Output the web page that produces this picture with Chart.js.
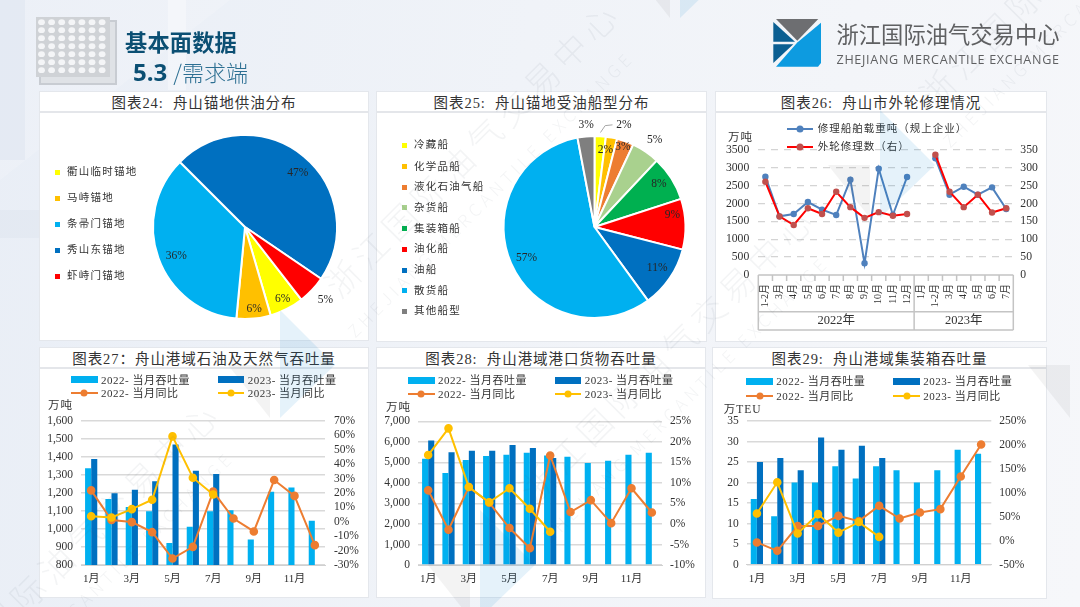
<!DOCTYPE html>
<html lang="zh">
<head>
<meta charset="utf-8">
<title>基本面数据 5.3 需求端</title>
<script src="https://cdn.jsdelivr.net/npm/chart.js@4"></script>
<style>
  html, body { margin: 0; padding: 0; }
  body {
    width: 1080px; height: 607px; position: relative; overflow: hidden;
    background: linear-gradient(100deg, #e9eef6 0%, #f0f3f8 45%, #f6f7fa 100%);
    font-family: "Liberation Serif", "Noto Sans CJK SC", serif; color: #262626;
  }
  .abs { position: absolute; white-space: pre; }
  .panel { position: absolute; background: #fff; outline: 1px solid #e4e7ec; }
  .title {
    position: absolute; left: 0; right: 0; top: 0; height: 19px; line-height: 23px;
    text-align: center; font-size: 14.5px; letter-spacing: .95px; color: #333;
    border-bottom: 2px solid #e4e6ea; white-space: pre;
  }
  .panel canvas { position: absolute; left: 0; top: 0; }
  .lg { position: absolute; font-size: 10.5px; letter-spacing: 1.25px; line-height: 14px; height: 14px; white-space: pre; color: #333; transform: translateY(-7px); }
  .unit { position: absolute; font-size: 11.5px; line-height: 14px; transform: translateY(-7px); letter-spacing: 1px; white-space: pre; color: #333; }
  .mk { position: absolute; border-radius: 50%; width: 7px; height: 7px; transform: translate(-3.5px, -3.5px); }
  .wm { position: absolute; white-space: pre; transform: rotate(-45deg); transform-origin: 0 50%; pointer-events: none;
        color: rgba(70, 85, 110, .065); font-family: "Noto Sans CJK SC", sans-serif; font-weight: 300; }
  #wmLayer { position: absolute; inset: 0; pointer-events: none; z-index: 5; overflow: hidden; }
  #head { position: absolute; inset: 0; z-index: 6; }
</style>
</head>
<body>
<svg class="abs" style="left:0;top:0" width="1080" height="607">
  <polygon points="0,0 230,0 0,180" fill="#ffffff" opacity=".16"/>
  <rect x="0" y="0" width="25" height="160" fill="#dfe6f0" opacity=".6"/>
  <rect x="0" y="210" width="40" height="28" fill="#dfe6f0" opacity=".6"/>
  <rect x="168" y="0" width="18" height="90" fill="#ffffff" opacity=".35"/>
</svg>

<div id="panels"></div>
<div id="wmLayer"></div>

<div id="head">
  <svg class="abs" style="left:34px;top:15px" width="90" height="74" id="gridIcon"></svg>
  <div class="abs" style="left:125px;top:25px;font:700 22.2px/32px 'Noto Sans CJK SC';color:#0b4f73;letter-spacing:.2px">基本面数据</div>
  <div class="abs" style="left:133px;top:54px;line-height:34px;color:#2c6f92;font-family:'Noto Sans CJK SC'"><span style="font:700 24px/34px 'Open Sans';color:#0b4f73">5.3</span><span style="font:300 22px/34px 'Noto Sans CJK SC';margin-left:6px">/需求端</span></div>
  <svg class="abs" style="left:0;top:0" width="1080" height="90">
    <polygon points="776,19 818.3,19 797.3,40.7" fill="#6d6e71"/>
    <polygon points="773.3,22 795,41.7 773.3,41.7" fill="#0b5f92"/>
    <polygon points="773.3,44.3 793.3,44.3 773.3,63" fill="#0b5f92"/>
    <polygon points="821,22.7 821,63 818,66.7 776,66.7 797.3,42.5" fill="#0d9be0"/>
  </svg>
  <div class="abs" style="left:836.5px;top:17px;font:400 22.3px/33px 'Noto Sans CJK SC';color:#5f6062">浙江国际油气交易中心</div>
  <div class="abs" style="left:836.5px;top:51px;font:400 12.6px/17px 'Open Sans';letter-spacing:.68px;color:#5f6062">ZHEJIANG MERCANTILE EXCHANGE</div>
</div>

<script>
// Anchorage supply and ship-type shares (percent)
const supplyNames = ['衢山临时锚地', '马峙锚地', '条帚门锚地', '秀山东锚地', '虾峙门锚地'];
const supplyShares = [6, 6, 36, 47, 5];
const shipNames = ['冷藏船', '化学品船', '液化石油气船', '杂货船', '集装箱船', '油化船', '油船', '散货船', '其他船型'];
const shipShares = [2, 2, 3, 5, 8, 9, 11, 57, 3];

// Foreign-ship repair, monthly
const repairMonths = ['1-2月','3月','4月','5月','6月','7月','8月','9月','10月','11月','12月','1月','1-2月','3月','4月','5月','6月','7月'];
const repairYears = ['2022年', '2023年'];
const repairTonnage = [2753,1642,1708,2043,1829,1680,2669,327,2977,1680,2744,null,3267,2249,2473,2249,2454,1848];
const repairCount = [261,164,140,187,171,233,190,160,176,166,171,null,337,233,190,225,175,187];

const months = ['1月','2月','3月','4月','5月','6月','7月','8月','9月','10月','11月','12月'];

// Oil and gas throughput
const oil2022 = [1337,1167,1122,1098,922,1013,1098,1104,941,1207,1231,1046];
const oil2023 = [1389,1198,1218,1265,1469,1324,1305];
const oilYoy2022 = [21.8,1.2,-0.2,-7.2,-25.5,-17.4,21,2.3,-6.7,29,18,-16.2];
const oilYoy2023 = [3.9,3,8.8,15.3,59.3,30.6,19];

// Port cargo throughput
const cargo2022 = [5180,4480,5115,5310,5375,5470,5340,5275,4970,5080,5375,5470];
const cargo2023 = [6070,5500,5570,5570,5845,5700,5210];
const cargoYoy2022 = [8.2,-1.4,9,5.2,-1,-5.9,16.7,2.9,5.8,0.2,8.7,2.8];
const cargoYoy2023 = [16.8,23.3,9,5.3,8.7,3.7,-1.9];

// Container throughput
const box2022 = [16,11.8,20,20,24,21,24,23,20,23,28,27];
const box2023 = [25,26,23,31,28,29,26];
const boxYoy2022 = [-3.5,-21,30.6,31,52,41,73,46.5,59,66,134,201];
const boxYoy2023 = [57,122,15,55.6,17,39,8];

const seriesNames = ['2022- 当月吞吐量', '2023- 当月吞吐量', '2022- 当月同比', '2023- 当月同比'];
const repairNames = ['修理船舶载重吨（规上企业）', '外轮修理数（右）'];

const TXT = '#333333';
const LIGHT = '#00b0f0', DARK = '#0070c0', ORANGE = '#ed7d31', GOLD = '#ffc000';
const SERIF = '"Liberation Serif", "Noto Sans CJK SC", serif';
Chart.defaults.font.family = SERIF;
Chart.defaults.color = TXT;
Chart.defaults.animation = false;
Chart.defaults.responsive = false;

const host = document.getElementById('panels');

function addPanel(x, y, w, h, title) {
  const p = document.createElement('div');
  p.className = 'panel';
  p.style.cssText = `left:${x}px;top:${y}px;width:${w}px;height:${h}px`;
  const t = document.createElement('div');
  t.className = 'title';
  t.textContent = title;
  p.appendChild(t);
  const c = document.createElement('canvas');
  c.width = w; c.height = h;
  c.style.width = w + 'px'; c.style.height = h + 'px';
  p.appendChild(c);
  host.appendChild(p);
  return { el: p, canvas: c, x, y };
}

function textAt(panel, cls, px, py, text) {
  const d = document.createElement('div');
  d.className = cls;
  d.style.left = (px - panel.x) + 'px';
  d.style.top = (py - panel.y) + 'px';
  d.textContent = text;
  panel.el.appendChild(d);
  return d;
}

function swatch(panel, px, py, w, h, color) {
  const d = document.createElement('div');
  d.style.cssText = `position:absolute;left:${px - panel.x}px;top:${py - panel.y - h / 2}px;width:${w}px;height:${h}px;background:${color}`;
  panel.el.appendChild(d);
}

function lineKey(panel, x0, x1, py, lineColor, dotColor) {
  swatch(panel, x0, py, x1 - x0, 2, lineColor);
  const m = document.createElement('div');
  m.className = 'mk';
  m.style.left = ((x0 + x1) / 2 - panel.x) + 'px';
  m.style.top = (py - panel.y) + 'px';
  m.style.background = dotColor;
  panel.el.appendChild(m);
}

// Percent labels placed around each slice: radius factor and angular shift in degrees
const sliceLabels = {
  id: 'sliceLabels',
  afterDatasetsDraw(chart, args, opts) {
    const { ctx } = chart;
    const arcs = chart.getDatasetMeta(0).data;
    ctx.save();
    ctx.font = '11.5px ' + SERIF;
    ctx.fillStyle = '#262626';
    ctx.textAlign = 'center';
    ctx.textBaseline = 'middle';
    arcs.forEach((a, i) => {
      const mid = (a.startAngle + a.endAngle) / 2 + opts.shift[i] * Math.PI / 180;
      const r = a.outerRadius * opts.radius[i];
      ctx.fillText(chart.data.datasets[0].data[i] + '%', a.x + Math.cos(mid) * r, a.y + Math.sin(mid) * r);
    });
    if (opts.leader) {
      const a = arcs[opts.leader.index];
      const pt = (ang, f) => {
        const t = (ang - 90) * Math.PI / 180;
        return [a.x + Math.cos(t) * a.outerRadius * f, a.y + Math.sin(t) * a.outerRadius * f];
      };
      ctx.strokeStyle = '#a6a6a6';
      ctx.lineWidth = 1;
      ctx.beginPath();
      opts.leader.path.forEach(([ang, f], k) => {
        const [px, py] = pt(ang, f);
        k ? ctx.lineTo(px, py) : ctx.moveTo(px, py);
      });
      ctx.stroke();
    }
    ctx.restore();
  }
};

function pie(panel, box, values, colors, rotation, labelOpts) {
  new Chart(panel.canvas, {
    type: 'pie',
    data: { labels: labelOpts.names, datasets: [{ data: values, backgroundColor: colors, borderColor: '#ffffff', borderWidth: 2 }] },
    options: {
      rotation,
      layout: { padding: box },
      plugins: { legend: { display: false }, tooltip: { enabled: false }, sliceLabels: labelOpts }
    },
    plugins: [sliceLabels]
  });
}

// Fixed-width axes keep every plot area where the layout wants it
const fixedWidth = w => ({ afterFit(s) { s.width = w; } });
const fixedHeight = h => ({ afterFit(s) { s.height = h; } });

function comboChart(panel, frame, d) {
  new Chart(panel.canvas, {
    type: 'bar',
    data: {
      labels: months,
      datasets: [
        { type: 'line', data: d.yoyA, yAxisID: 'y1', borderColor: ORANGE, backgroundColor: ORANGE, borderWidth: 2, pointRadius: 3.3, tension: 0, order: 2 },
        { type: 'line', data: d.yoyB, yAxisID: 'y1', borderColor: GOLD, backgroundColor: GOLD, borderWidth: 2, pointRadius: 3.3, tension: 0, order: 1 },
        { data: d.barA, backgroundColor: LIGHT, yAxisID: 'y', categoryPercentage: .6, barPercentage: 1, order: 3 },
        { data: d.barB, backgroundColor: DARK, yAxisID: 'y', categoryPercentage: .6, barPercentage: 1, order: 4 }
      ]
    },
    options: {
      layout: { padding: { top: frame.top, left: 0, right: 0, bottom: 0 } },
      plugins: { legend: { display: false }, tooltip: { enabled: false } },
      scales: {
        x: {
          ...fixedHeight(frame.bottom),
          grid: { display: false, drawTicks: false },
          border: { color: '#d0d0d0', width: 1 },
          ticks: { autoSkip: false, maxRotation: 0, minRotation: 0, padding: 8, font: { size: 11 },
                   callback(v, i) { return i % 2 === 0 ? months[i] : ''; } }
        },
        y: {
          ...fixedWidth(frame.left),
          min: d.min, max: d.max, grid: { color: '#d9d9d9', lineWidth: 1.5, drawTicks: false },
          border: { display: false },
          afterBuildTicks(s) { s.ticks = d.ticks.map(value => ({ value })); },
          ticks: { autoSkip: false, padding: frame.padL, font: { size: 11.5 }, callback: v => v.toLocaleString('en-US') }
        },
        y1: {
          ...fixedWidth(frame.right),
          position: 'right', min: d.min1, max: d.max1, grid: { display: false, drawTicks: false },
          border: { display: false },
          afterBuildTicks(s) { s.ticks = d.ticks1.map(value => ({ value })); },
          ticks: { autoSkip: false, padding: frame.padR, font: { size: 11.5 }, callback: v => v + '%' }
        }
      }
    }
  });
}

function range(a, b, step) { const out = []; for (let v = a; v <= b; v += step) out.push(v); return out; }

function comboLegend(panel, xs, rows) {
  const keys = [[xs[0], rows[0]], [xs[1], rows[0]], [xs[0], rows[1]], [xs[1], rows[1]]];
  keys.forEach(([kx, ky], i) => {
    if (i < 2) swatch(panel, kx, ky, 26.6, 7, i ? DARK : LIGHT);
    else lineKey(panel, kx, kx + 26.6, ky, i === 2 ? ORANGE : GOLD, i === 2 ? ORANGE : GOLD);
    const t = textAt(panel, 'lg', kx + 30, ky, seriesNames[i]);
    t.style.fontSize = '11px';
    t.style.letterSpacing = '.5px';
  });
}

/* ---------- 图表24 ---------- */
const p24 = addPanel(40, 92, 328, 248, '图表24:\u00a0\u00a0舟山锚地供油分布');
pie(p24, { left: 112, right: 30, top: 42, bottom: 20 }, supplyShares,
    ['#ffff00', '#ffc000', '#00b0f0', '#0070c0', '#ff0000'], 142.2,
    { names: supplyNames, radius: [.88, .9, .81, .82, 1.18], shift: [-.8, -.9, -3, 4.9, -1] });
[172, 198, 224, 250, 276].forEach((py, i) => {
  swatch(p24, 55, py, 5, 5, ['#ffff00', '#ffc000', '#00b0f0', '#0070c0', '#ff0000'][i]);
  textAt(p24, 'lg', 67, py, supplyNames[i]);
});

/* ---------- 图表25 ---------- */
const shipColors = ['#ffff00', '#ffc000', '#ed7d31', '#a9d18e', '#00b050', '#ff0000', '#0070c0', '#00b0f0', '#7f7f7f'];
const p25 = addPanel(377, 92, 329, 249, '图表25:\u00a0\u00a0舟山锚地受油船型分布');
pie(p25, { left: 125, right: 19, top: 43, bottom: 22 }, shipShares, shipColors, 0,
    { names: shipNames, radius: [1.163, .855, .936, 1.16, .85, .867, .825, .823, 1.12], shift: [12.5, -2.7, -.4, .6, -1.2, -6.7, -.8, -1.3, .7],
      leader: { index: 0, path: [[3.6, 1.04], [6, 1.12], [10, 1.14]] } });
[145.3, 166.7, 187.3, 207.7, 228.7, 249.3, 270, 290.7, 311.3].forEach((py, i) => {
  swatch(p25, 402, py, 5, 5, shipColors[i]);
  textAt(p25, 'lg', 414, py, shipNames[i]);
});

/* ---------- 图表26 ---------- */
const p26 = addPanel(716, 92, 330, 249, '图表26:\u00a0\u00a0舟山市外轮修理情况');

// Two-level month/year axis drawn in the band under the plot
const yearAxis = {
  id: 'yearAxis',
  afterDraw(chart) {
    const { ctx, chartArea: ca } = chart;
    const x = chart.scales.x;
    const step = (ca.right - ca.left) / repairMonths.length;
    const top = ca.bottom, mid = ca.bottom + 36.7, bot = ca.bottom + 55;
    const split = ca.left + step * 11;
    ctx.save();
    ctx.strokeStyle = '#c4c4c4';
    ctx.lineWidth = 1.5;
    ctx.beginPath();
    ctx.moveTo(ca.left, top); ctx.lineTo(ca.right, top);
    ctx.moveTo(ca.left, mid); ctx.lineTo(ca.right, mid);
    ctx.moveTo(ca.left, bot); ctx.lineTo(ca.right, bot);
    ctx.moveTo(ca.left, top); ctx.lineTo(ca.left, bot);
    ctx.moveTo(split, top); ctx.lineTo(split, bot);
    ctx.moveTo(ca.right, top); ctx.lineTo(ca.right, bot);
    for (let i = 1; i < repairMonths.length; i++) {
      const tx = ca.left + step * i;
      ctx.moveTo(tx, top); ctx.lineTo(tx, top + 6);
    }
    ctx.stroke();
    ctx.fillStyle = TXT;
    ctx.font = '10px ' + SERIF;
    ctx.textBaseline = 'middle';
    repairMonths.forEach((m, i) => {
      ctx.save();
      ctx.translate(x.getPixelForValue(i), top + 9);
      ctx.rotate(-Math.PI / 2);
      ctx.textAlign = 'right';
      ctx.fillText(m, 0, 0);
      ctx.restore();
    });
    ctx.font = '12.5px ' + SERIF;
    ctx.textAlign = 'center';
    ctx.fillText(repairYears[0], (ca.left + split) / 2, (mid + bot) / 2);
    ctx.fillText(repairYears[1], (split + ca.right) / 2, (mid + bot) / 2);
    ctx.restore();
  }
};

new Chart(p26.canvas, {
  type: 'line',
  data: {
    labels: repairMonths,
    datasets: [
      { data: repairCount, yAxisID: 'y1', borderColor: '#ff0000', backgroundColor: '#c0504d', borderWidth: 2, pointRadius: 3.2, pointBorderWidth: 0, tension: 0, order: 1 },
      { data: repairTonnage, yAxisID: 'y', borderColor: '#4f81bd', backgroundColor: '#4f81bd', borderWidth: 2, pointRadius: 3.2, pointBorderWidth: 0, tension: 0, order: 2 }
    ]
  },
  options: {
    layout: { padding: { top: 58, left: 0, right: 0, bottom: 0 } },
    plugins: { legend: { display: false }, tooltip: { enabled: false } },
    scales: {
      x: { offset: true, ...fixedHeight(66), grid: { display: false, drawTicks: false }, border: { display: false }, ticks: { display: false } },
      y: {
        ...fixedWidth(42.3), min: 0, max: 3500,
        grid: { color: c => c.tick.value === 0 ? 'transparent' : '#d4d4d4', lineWidth: 1.3, drawTicks: false },
        border: { display: false, dash: [7, 6] },
        afterBuildTicks(s) { s.ticks = range(0, 3500, 500).map(value => ({ value })); },
        ticks: { autoSkip: false, padding: 9, font: { size: 11.7 } , callback: v => String(v) }
      },
      y1: {
        ...fixedWidth(32.7), position: 'right', min: 0, max: 350,
        grid: { display: false, drawTicks: false }, border: { display: false },
        afterBuildTicks(s) { s.ticks = range(0, 350, 50).map(value => ({ value })); },
        ticks: { autoSkip: false, padding: 7, font: { size: 11.7 }, callback: v => String(v) }
      }
    }
  },
  plugins: [yearAxis]
});
lineKey(p26, 786.7, 812.7, 129, '#4f81bd', '#4f81bd');
lineKey(p26, 786.7, 812.7, 147.3, '#ff0000', '#c0504d');
textAt(p26, 'lg', 817.7, 129, repairNames[0]).style.letterSpacing = '1px';
textAt(p26, 'lg', 817.7, 147.3, repairNames[1]).style.letterSpacing = '1px';
textAt(p26, 'unit', 728, 136.7, '万吨');

/* ---------- 图表27 ---------- */
const p27 = addPanel(40, 348, 328, 249, '图表27：舟山港域石油及天然气吞吐量');
comboChart(p27, { top: 73, bottom: 32, left: 41, right: 43, padL: 8, padR: 9 }, {
  barA: oil2022, barB: oil2023, yoyA: oilYoy2022, yoyB: oilYoy2023,
  min: 800, max: 1600, ticks: range(800, 1600, 100), min1: -30, max1: 70, ticks1: range(-30, 70, 10)
});
comboLegend(p27, [71, 217.7], [379.7, 393.3]);
textAt(p27, 'unit', 48, 405, '万吨');

/* ---------- 图表28 ---------- */
const p28 = addPanel(377, 348, 328, 249, '图表28:\u00a0\u00a0舟山港域港口货物吞吐量');
comboChart(p28, { top: 73.4, bottom: 32, left: 41, right: 43, padL: 8, padR: 8 }, {
  barA: cargo2022, barB: cargo2023, yoyA: cargoYoy2022, yoyB: cargoYoy2023,
  min: 0, max: 7000, ticks: range(0, 7000, 1000), min1: -10, max1: 25, ticks1: range(-10, 25, 5)
});
comboLegend(p28, [408, 554.7], [380, 394]);
textAt(p28, 'unit', 386, 406.7, '万吨');

/* ---------- 图表29 ---------- */
const p29 = addPanel(713, 348, 333, 250, '图表29:\u00a0\u00a0舟山港域集装箱吞吐量');
comboChart(p29, { top: 73, bottom: 33.3, left: 33.7, right: 54.7, padL: 8, padR: 8 }, {
  barA: box2022, barB: box2023, yoyA: boxYoy2022, yoyB: boxYoy2023,
  min: 0, max: 35, ticks: range(0, 35, 5), min1: -50, max1: 250, ticks1: range(-50, 250, 50)
});
comboLegend(p29, [746.3, 893.3], [381, 395.7]);
textAt(p29, 'unit', 723.7, 409, '万TEU');

/* ---------- header ornament ---------- */
let dots = '<rect x="6" y="6" width="76" height="63" fill="#dfe2e6" stroke="#c8ccd2" stroke-width="2"/><rect x="2" y="2" width="74" height="60" fill="#cfd2d6"/>';
for (let r = 0; r < 7; r++) for (let c = 0; c < 7; c++) {
  dots += `<ellipse cx="${7.5 + c * 10.1}" cy="${7.2 + r * 8}" rx="3.4" ry="2.9" fill="#f4f5f7"/>`;
}
document.getElementById('gridIcon').innerHTML = dots;

/* ---------- watermark ---------- */
const wm = document.getElementById('wmLayer');
const wmStarts = [[-70, 690], [330, 290], [525, 495], [925, 100]];
wmStarts.forEach(([sx, sy]) => {
  [[sx, sy, 34, 6.2, '浙江国际油气交易中心'], [sx + 20, sy + 43, 17, 4.5, 'ZHEJIANG MERCANTILE EXCHANGE']].forEach(([x, y, size, gap, text]) => {
    const d = document.createElement('div');
    d.className = 'wm';
    d.style.cssText = `left:${x}px;top:${y - size / 2}px;font-size:${size}px;line-height:${size}px;letter-spacing:${gap}px`;
    d.textContent = text;
    wm.appendChild(d);
  });
});

// Pale brand chevrons repeated on a diagonal lattice
const chevronCentres = [[275, 365], [675, -35], [475, 565], [875, 165], [1075, 365]];
let chevrons = '';
chevronCentres.forEach(([cx, cy]) => {
  chevrons += `<polygon points="${cx + 5},${cy - 55} ${cx + 60},${cy} ${cx + 5},${cy + 53}" fill="rgba(0,130,210,.1)"/>`;
  chevrons += `<polygon points="${cx - 47},${cy} ${cx - 5},${cy + 53} ${cx - 5},${cy}" fill="rgba(90,90,90,.07)"/>`;
});
wm.insertAdjacentHTML('afterbegin', `<svg class="abs" style="left:0;top:0" width="1080" height="607">${chevrons}</svg>`);
</script>
</body>
</html>
